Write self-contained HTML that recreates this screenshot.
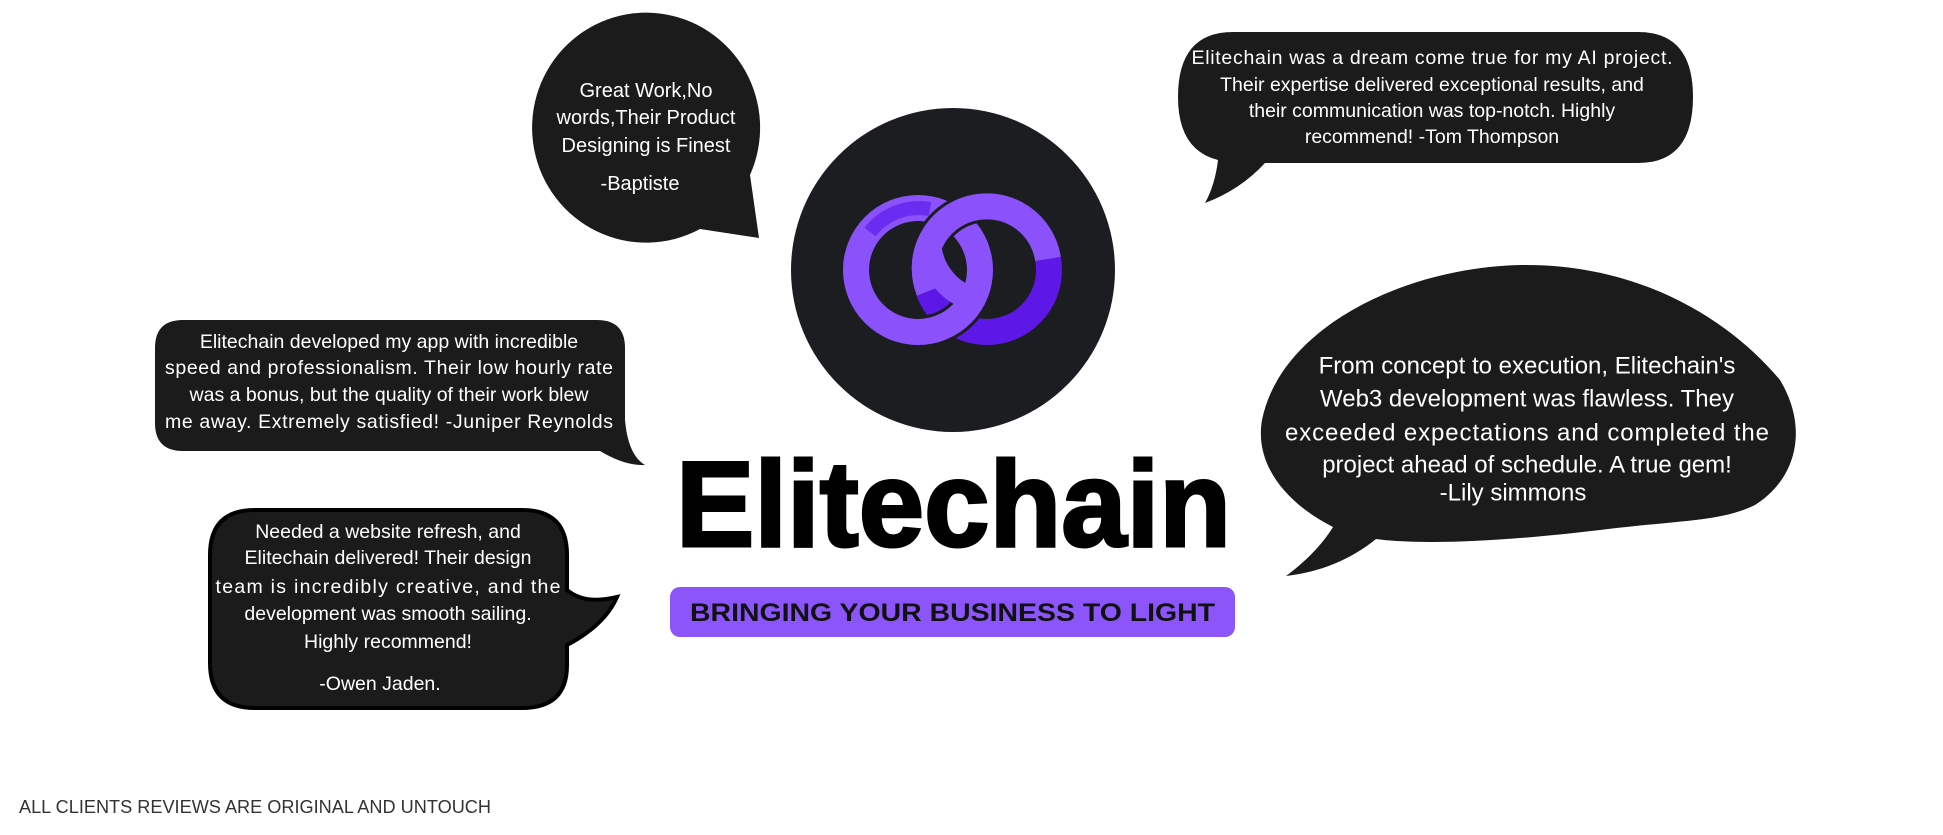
<!DOCTYPE html>
<html><head><meta charset="utf-8"><style>
html,body{margin:0;padding:0;background:#fff;width:1943px;height:835px;overflow:hidden}
svg{display:block}
text{font-family:"Liberation Sans",sans-serif}
</style></head><body>
<svg width="1943" height="835" viewBox="0 0 1943 835" xmlns="http://www.w3.org/2000/svg">
<path d="M750,175 L759,238 L700,229 A114,115 0 1 1 750,175 Z" fill="#1b1b1b"/>
<circle cx="953" cy="270" r="162" fill="#1c1d21"/>
<!-- rings -->
<circle cx="987" cy="270" r="62" fill="none" stroke="#5d17e6" stroke-width="26"/>
<circle cx="918" cy="270" r="62" fill="none" stroke="#1c1d21" stroke-width="32"/>
<circle cx="918" cy="270" r="62" fill="none" stroke="#8b52fb" stroke-width="26"/>
<path d="M870,232 A62,62 0 0 1 930,209" fill="none" stroke="#6a2cf0" stroke-width="14"/>
<path d="M929,291 A62,62 0 1 1 1048,259" fill="none" stroke="#1c1d21" stroke-width="32"/>
<path d="M929,291 A62,62 0 1 1 1048,259" fill="none" stroke="#8b52fb" stroke-width="26"/>
<path d="M975,300 A62,62 0 0 1 930,250" fill="none" stroke="#8b52fb" stroke-width="24"/>
<!-- Tom -->
<path d="M1233,32 L1638,32 Q1693,32 1693,97 Q1693,163 1638,163 L1265,163 Q1240,190 1205,203 Q1215,185 1218,160 Q1178,150 1178,97 Q1178,32 1233,32 Z" fill="#1b1b1b"/>
<!-- Juniper -->
<path d="M183,320 L597,320 Q625,320 625,348 L625,420 Q628,455 645,465 Q625,466 600,451 L183,451 Q155,451 155,423 L155,348 Q155,320 183,320 Z" fill="#1b1b1b"/>
<!-- Owen -->
<path d="M255,510 L522,510 Q567,510 567,555 L567,590 Q585,605 617,597 Q605,625 567,645 L567,665 Q567,708 522,708 L255,708 Q210,708 210,663 L210,555 Q210,510 255,510 Z" fill="#1b1b1b" stroke="#000" stroke-width="4"/>
<!-- Lily -->
<path d="M1333,527 C1280,500 1255,460 1262,420 C1280,330 1400,268 1520,265 C1640,263 1730,320 1780,380 C1810,430 1795,480 1755,505 C1720,522 1680,520 1600,530 C1500,542 1420,545 1376,539 C1350,560 1320,572 1286,576 C1305,562 1322,545 1333,527 Z" fill="#1b1b1b"/>

<g fill="#fff" font-size="20" text-anchor="middle" dominant-baseline="central">
<text x="646" y="91">Great Work,No</text>
<text x="646" y="118">words,Their Product</text>
<text x="646" y="146">Designing is Finest</text>
<text x="640" y="184">-Baptiste</text>
</g>
<g fill="#fff" font-size="19.5" text-anchor="middle" dominant-baseline="central">
<text x="1432" y="58" textLength="481">Elitechain was a dream come true for my AI project.</text>
<text x="1432" y="85">Their expertise delivered exceptional results, and</text>
<text x="1432" y="111">their communication was top-notch. Highly</text>
<text x="1432" y="137">recommend! -Tom Thompson</text>
<text x="389" y="342">Elitechain developed my app with incredible</text>
<text x="389" y="368" textLength="448">speed and professionalism. Their low hourly rate</text>
<text x="389" y="395">was a bonus, but the quality of their work blew</text>
<text x="389" y="422" textLength="448">me away. Extremely satisfied! -Juniper Reynolds</text>
<text x="388" y="532">Needed a website refresh, and</text>
<text x="388" y="558">Elitechain delivered! Their design</text>
<text x="388" y="587" textLength="345">team is incredibly creative, and the</text>
<text x="388" y="614">development was smooth sailing.</text>
<text x="388" y="642">Highly recommend!</text>
<text x="380" y="684">-Owen Jaden.</text>
</g>
<g fill="#fff" font-size="24" text-anchor="middle" dominant-baseline="central">
<text x="1527" y="366">From concept to execution, Elitechain's</text>
<text x="1527" y="399">Web3 development was flawless. They</text>
<text x="1527" y="433" textLength="484">exceeded expectations and completed the</text>
<text x="1527" y="465">project ahead of schedule. A true gem!</text>
<text x="1513" y="493">-Lily simmons</text>
</g>
<text x="676" y="546" font-size="122" font-weight="bold" fill="#000" stroke="#000" stroke-width="3" textLength="555" lengthAdjust="spacingAndGlyphs">Elitechain</text>
<rect x="670" y="587" width="565" height="50" rx="10" fill="#8b55fa"/>
<text x="690" y="621" font-size="25" font-weight="bold" fill="#111" textLength="525" lengthAdjust="spacingAndGlyphs">BRINGING YOUR BUSINESS TO LIGHT</text>
<text x="19" y="813" font-size="18" fill="#333" textLength="472" lengthAdjust="spacingAndGlyphs">ALL CLIENTS REVIEWS ARE ORIGINAL AND UNTOUCH</text>
</svg>
</body></html>
